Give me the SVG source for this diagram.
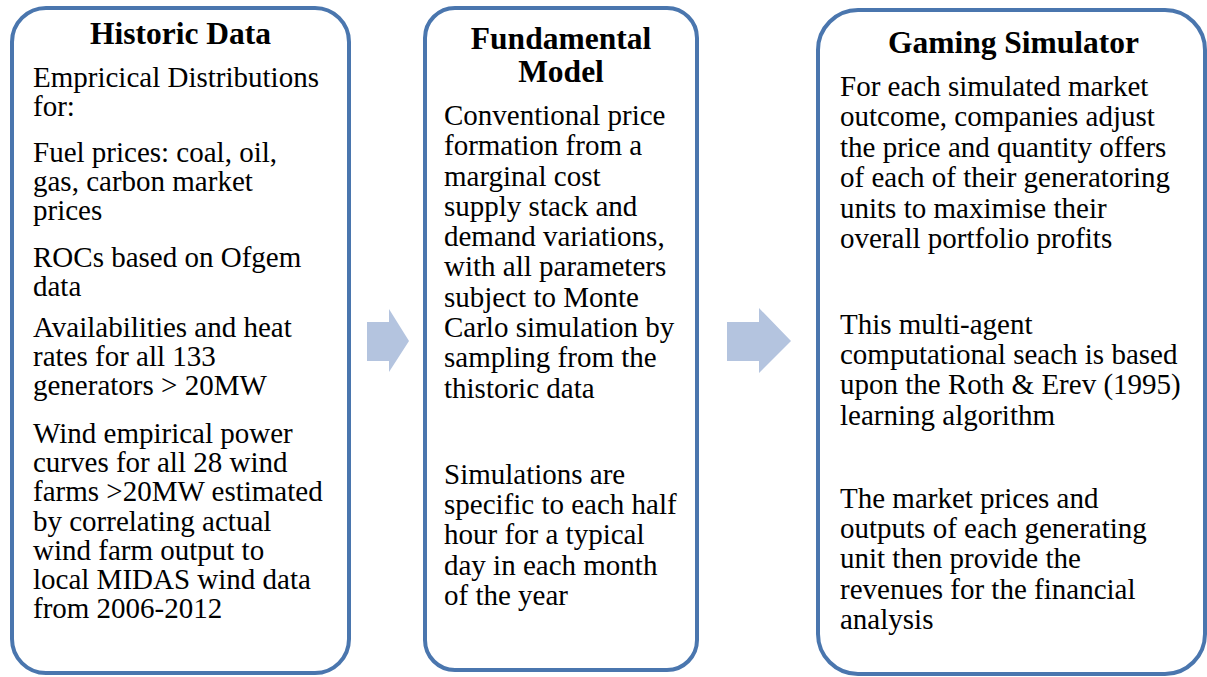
<svg xmlns="http://www.w3.org/2000/svg" width="1207" height="677" viewBox="0 0 1207 677">
<style>
.box{fill:#ffffff;stroke:#4A76AE;stroke-width:4}
.arrow{fill:#B4C4DF;stroke:none}
.title{font-family:"Liberation Serif","Times New Roman",serif;font-weight:bold;font-size:31.5px;fill:#000;text-anchor:middle}
.body{font-family:"Liberation Serif","Times New Roman",serif;font-size:29px;fill:#000}
</style>
<rect width="1207" height="677" fill="#ffffff"/>
<g id="connectors">
<polygon class="arrow" points="367,322 389,322 389,309 409,341 389,372 389,361 367,361"/>
<polygon class="arrow" points="727,322 759,322 759,308 791,341 759,373 759,361 727,361"/>
</g>
<g id="historic-data">
<rect class="box" x="12" y="8" width="337" height="665" rx="34" ry="34"/>
<text class="title" x="180.5" y="44">Historic Data</text>
<text class="body">
<tspan x="33" y="87">Empricical Distributions</tspan>
<tspan x="33" y="116">for:</tspan>
<tspan x="33" y="162">Fuel prices: coal, oil,</tspan>
<tspan x="33" y="191">gas, carbon market</tspan>
<tspan x="33" y="220">prices</tspan>
<tspan x="33" y="267">ROCs based on Ofgem</tspan>
<tspan x="33" y="296">data</tspan>
<tspan x="33" y="337">Availabilities and heat</tspan>
<tspan x="33" y="366">rates for all 133</tspan>
<tspan x="33" y="395">generators &gt; 20MW</tspan>
<tspan x="33" y="443">Wind empirical power</tspan>
<tspan x="33" y="472">curves for all 28 wind</tspan>
<tspan x="33" y="501">farms &gt;20MW estimated</tspan>
<tspan x="33" y="531">by correlating actual</tspan>
<tspan x="33" y="560">wind farm output to</tspan>
<tspan x="33" y="589">local MIDAS wind data</tspan>
<tspan x="33" y="618">from 2006-2012</tspan>
</text>
</g>
<g id="fundamental-model">
<rect class="box" x="425" y="8" width="272" height="662" rx="30" ry="30"/>
<text class="title" x="561" y="49">Fundamental</text>
<text class="title" x="561" y="82">Model</text>
<text class="body">
<tspan x="444" y="125">Conventional price</tspan>
<tspan x="444" y="155">formation from a</tspan>
<tspan x="444" y="186">marginal cost</tspan>
<tspan x="444" y="216">supply stack and</tspan>
<tspan x="444" y="246">demand variations,</tspan>
<tspan x="444" y="276">with all parameters</tspan>
<tspan x="444" y="307">subject to Monte</tspan>
<tspan x="444" y="337">Carlo simulation by</tspan>
<tspan x="444" y="367">sampling from the</tspan>
<tspan x="444" y="398">thistoric data</tspan>
<tspan x="444" y="484">Simulations are</tspan>
<tspan x="444" y="514">specific to each half</tspan>
<tspan x="444" y="544">hour for a typical</tspan>
<tspan x="444" y="575">day in each month</tspan>
<tspan x="444" y="605">of the year</tspan>
</text>
</g>
<g id="gaming-simulator">
<rect class="box" x="818" y="10" width="387" height="664" rx="40" ry="40"/>
<text class="title" x="1013.5" y="53">Gaming Simulator</text>
<text class="body">
<tspan x="840" y="96">For each simulated market</tspan>
<tspan x="840" y="126">outcome, companies adjust</tspan>
<tspan x="840" y="157">the price and quantity offers</tspan>
<tspan x="840" y="187">of each of their generatoring</tspan>
<tspan x="840" y="218">units to maximise their</tspan>
<tspan x="840" y="248">overall portfolio profits</tspan>
<tspan x="840" y="334">This multi-agent</tspan>
<tspan x="840" y="364">computational seach is based</tspan>
<tspan x="840" y="394">upon the Roth &amp; Erev (1995)</tspan>
<tspan x="840" y="425">learning algorithm</tspan>
<tspan x="840" y="508">The market prices and</tspan>
<tspan x="840" y="538">outputs of each generating</tspan>
<tspan x="840" y="568">unit then provide the</tspan>
<tspan x="840" y="599">revenues for the financial</tspan>
<tspan x="840" y="629">analysis</tspan>
</text>
</g>
</svg>
